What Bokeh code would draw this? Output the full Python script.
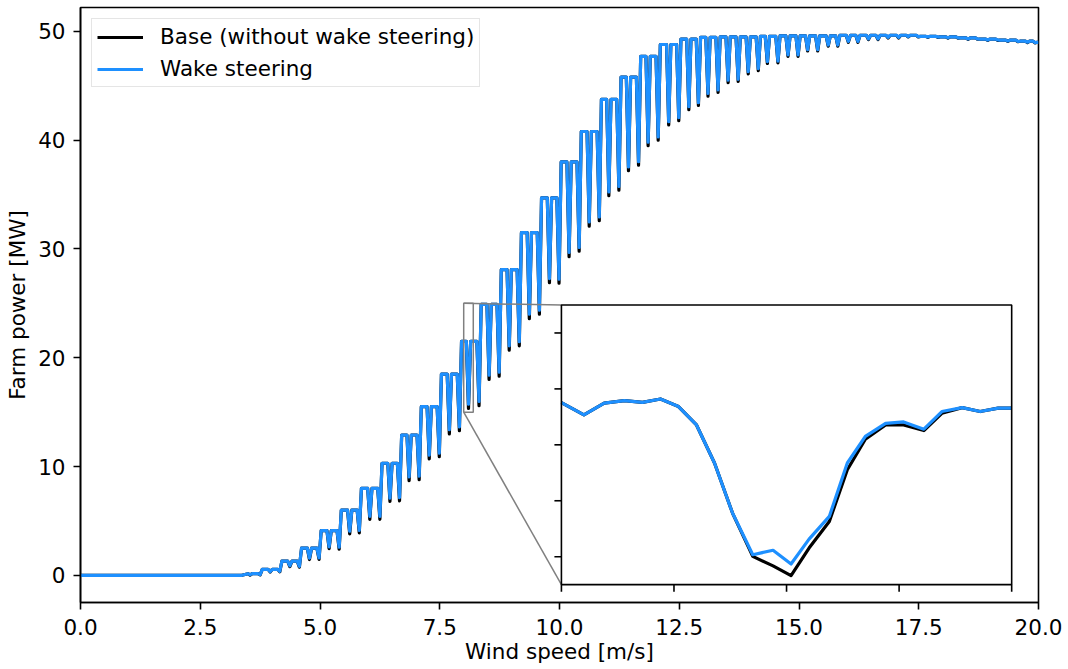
from bokeh.plotting import figure
from bokeh.models import Range1d, FixedTicker, NumeralTickFormatter
from bokeh.embed import file_html
from bokeh.resources import INLINE

FONT = "DejaVu Sans"
FS = "21.5px"
BLUE = "#1e90ff"
BLACK = "#000000"
GREY = "#808080"

# ---------------- data ----------------
x_ticks = [0.0, 2.5, 5.0, 7.5, 10.0, 12.5, 15.0, 17.5, 20.0]
y_ticks = [0, 10, 20, 30, 40, 50]
x_lim = (0.0, 20.0)
y_lim = (-2.5, 52.2)

zero_until = 3.37          # farm power is zero up to this wind speed
end_level = 49.0           # level at the right edge (20 m/s)

# plateau level of each direction sweep (two wake dips per sweep)
pair_levels = [0.15, 0.55, 1.3, 2.5, 4.1, 6.0, 8.0, 10.3, 12.9, 15.5,
               18.5, 21.5, 24.9, 28.1, 31.5, 34.7, 38.0, 40.8, 43.75, 45.8,
               47.7, 48.8, 49.3, 49.45, 49.5, 49.5, 49.55, 49.6, 49.6, 49.6,
               49.65, 49.65, 49.65, 49.65, 49.55, 49.5, 49.4, 49.3, 49.2, 49.1]
dip1_x = [3.54, 3.96, 4.37, 4.78, 5.19, 5.62, 6.04, 6.46, 6.86, 7.28,
          7.70, 8.10, 8.53, 8.95, 9.37, 9.79, 10.20, 10.62, 11.03, 11.44,
          11.85, 12.28, 12.70, 13.10, 13.52, 13.94, 14.34, 14.77, 15.18, 15.61,
          16.03, 16.45, 16.86, 17.28, 17.69, 18.11, 18.53, 18.94, 19.36, 19.77]
dip2_x = [3.75, 4.16, 4.57, 4.98, 5.40, 5.82, 6.25, 6.66, 7.07, 7.49,
          7.91, 8.32, 8.74, 9.16, 9.58, 9.99, 10.41, 10.83, 11.24, 11.65,
          12.06, 12.49, 12.90, 13.31, 13.73, 14.15, 14.56, 14.98, 15.39, 15.81,
          16.23, 16.65, 17.08, 17.49, 17.90, 18.32, 18.73, 19.15, 19.57, 19.93]
base_min1 = [0.02, 0.30, 0.80, 1.45, 2.45, 3.80, 5.15, 6.80, 8.70, 10.70,
             13.00, 15.35, 18.00, 20.70, 23.60, 26.90, 29.30, 32.10, 34.90, 37.20,
             39.50, 41.40, 42.80, 44.05, 45.30, 46.10, 47.05, 47.70, 48.20, 48.65,
             49.00, 49.25, 49.40, 49.50, 49.45, 49.38, 49.28, 49.18, 49.08, 48.98]
base_min2 = [0.04, 0.32, 0.75, 1.47, 2.40, 3.90, 5.15, 6.85, 8.80, 10.90,
             13.30, 15.60, 18.30, 21.10, 24.00, 26.85, 29.80, 32.60, 35.40, 37.70,
             40.00, 41.80, 43.20, 44.40, 45.40, 46.40, 47.10, 47.70, 48.20, 48.65,
             49.00, 49.25, 49.40, 49.50, 49.45, 49.38, 49.28, 49.18, 49.05, 48.95]
wake_min1 = [0.05, 0.35, 0.88, 1.58, 2.62, 4.05, 5.42, 7.10, 9.05, 11.05,
             13.38, 15.74, 18.40, 21.10, 24.00, 27.28, 29.68, 32.48, 35.25, 37.55,
             39.82, 41.70, 43.08, 44.30, 45.52, 46.30, 47.22, 47.84, 48.32, 48.75,
             49.08, 49.31, 49.45, 49.53, 49.48, 49.41, 49.31, 49.21, 49.11, 49.01]
wake_min2 = [0.07, 0.37, 0.83, 1.60, 2.58, 4.12, 5.42, 7.15, 9.12, 11.22,
             13.65, 15.98, 18.68, 21.48, 24.38, 27.22, 30.15, 32.95, 35.75, 38.02,
             40.30, 42.08, 43.45, 44.62, 45.60, 46.58, 47.26, 47.84, 48.32, 48.75,
             49.08, 49.31, 49.45, 49.53, 49.48, 49.41, 49.31, 49.21, 49.08, 48.98]

# zoomed inset (one wake dip around 8.1 m/s)
inset_xlim = (8.0, 8.2)
inset_ylim = (15.0, 25.0)
inset_xticks = [8.0, 8.05, 8.1, 8.15, 8.2]
inset_yticks = [16, 18, 20, 22, 24]
inset_x = [8.000, 8.010, 8.019, 8.028, 8.036, 8.044, 8.052, 8.060, 8.068, 8.076,
           8.085, 8.094, 8.102, 8.110, 8.119, 8.127, 8.135, 8.144, 8.152, 8.161,
           8.169, 8.178, 8.186, 8.194, 8.200]
inset_base = [21.51, 21.07, 21.49, 21.58, 21.52, 21.64, 21.37, 20.71, 19.35, 17.56,
              16.01, 15.67, 15.32, 16.31, 17.26, 19.11, 20.20, 20.71, 20.71, 20.51,
              21.13, 21.33, 21.19, 21.31, 21.31]
inset_wake = [21.51, 21.07, 21.49, 21.58, 21.52, 21.64, 21.37, 20.71, 19.35, 17.56,
              16.07, 16.23, 15.74, 16.63, 17.44, 19.35, 20.30, 20.77, 20.82, 20.56,
              21.19, 21.33, 21.19, 21.31, 21.31]

# ---------------- layout constants ----------------
W, H = 1068, 669
B_LEFT, B_TOP, B_RIGHT, B_BOTTOM = 80, 7, 30, 67
FRAME_W = W - B_LEFT - B_RIGHT
FRAME_H = H - B_TOP - B_BOTTOM
INSET_BOUNDS = (0.502, 0.03, 0.47, 0.47)   # axes fraction: x0, y0, w, h
HW = 0.045                                  # drawn half-width of a dip
TICK_PX = 7
LW = 3.2


def sweep_line(mins1, mins2):
    xs = [x_lim[0], zero_until]
    ys = [0.0, 0.0]
    n = len(pair_levels)
    for k in range(n):
        lev = pair_levels[k]
        nxt = pair_levels[k + 1] if k + 1 < n else end_level
        xs += [dip1_x[k] - HW, dip1_x[k], dip1_x[k] + HW,
               dip2_x[k] - HW, dip2_x[k], dip2_x[k] + HW]
        ys += [lev, mins1[k], lev, lev, mins2[k], nxt]
    if xs[-1] < x_lim[1]:
        xs.append(x_lim[1])
        ys.append(end_level)
    return xs, ys


def style_axis(ax):
    ax.axis_line_color = BLACK
    ax.axis_line_width = 1.6
    ax.major_tick_line_color = BLACK
    ax.major_tick_line_width = 1.6
    ax.major_tick_out = TICK_PX
    ax.major_tick_in = 0
    ax.minor_tick_line_color = None
    ax.major_label_text_font = FONT
    ax.major_label_text_font_size = FS
    ax.major_label_text_color = BLACK
    ax.axis_label_text_font = FONT
    ax.axis_label_text_font_size = FS
    ax.axis_label_text_font_style = "normal"
    ax.axis_label_text_color = BLACK


# ---------------- main figure ----------------
p = figure(width=W, height=H,
           x_range=Range1d(*x_lim), y_range=Range1d(*y_lim),
           output_backend="svg", toolbar_location=None,
           min_border_left=B_LEFT, min_border_top=B_TOP,
           min_border_right=B_RIGHT, min_border_bottom=B_BOTTOM)
p.background_fill_color = "white"
p.border_fill_color = "white"
p.outline_line_color = BLACK
p.outline_line_width = 1.6
p.xgrid.grid_line_color = None
p.ygrid.grid_line_color = None

p.xaxis.ticker = FixedTicker(ticks=x_ticks)
p.xaxis.formatter = NumeralTickFormatter(format="0.0")
p.yaxis.ticker = FixedTicker(ticks=y_ticks)
for ax in p.xaxis + p.yaxis:
    style_axis(ax)
p.xaxis.axis_label = "Wind speed [m/s]"
p.yaxis.axis_label = "Farm power [MW]"
p.xaxis.major_label_standoff = 9
p.xaxis.axis_label_standoff = 1
p.yaxis.major_label_standoff = 8
p.yaxis.axis_label_standoff = 5

bx, by = sweep_line(base_min1, base_min2)
wx, wy = sweep_line(wake_min1, wake_min2)
p.line(bx, by, line_color=BLACK, line_width=LW, line_join="round",
       legend_label="Base (without wake steering)")
p.line(wx, wy, line_color=BLUE, line_width=LW, line_join="round",
       legend_label="Wake steering")

# ---------------- inset, drawn on extra ranges of the same frame ----------------
fx0, fy0, fw, fh = INSET_BOUNDS
ix_span = (inset_xlim[1] - inset_xlim[0]) / fw
iy_span = (inset_ylim[1] - inset_ylim[0]) / fh
ix_start = inset_xlim[0] - fx0 * ix_span
iy_start = inset_ylim[0] - fy0 * iy_span
p.extra_x_ranges = {"ix": Range1d(ix_start, ix_start + ix_span)}
p.extra_y_ranges = {"iy": Range1d(iy_start, iy_start + iy_span)}
ikw = dict(x_range_name="ix", y_range_name="iy")

# inset corners in main data coordinates (for the connectors)
cx0 = x_lim[0] + fx0 * (x_lim[1] - x_lim[0])
cy0 = y_lim[0] + fy0 * (y_lim[1] - y_lim[0])
cy1 = y_lim[0] + (fy0 + fh) * (y_lim[1] - y_lim[0])

# zoom indicator and connectors on the main axes
p.quad(left=[inset_xlim[0]], right=[inset_xlim[1]],
       bottom=[inset_ylim[0]], top=[inset_ylim[1]],
       fill_color=None, line_color=GREY, line_width=1.5)
p.segment(x0=[inset_xlim[0], inset_xlim[0]], y0=[inset_ylim[0], inset_ylim[1]],
          x1=[cx0, cx0], y1=[cy0, cy1], line_color=GREY, line_width=1.5)

# inset background
p.quad(left=[inset_xlim[0]], right=[inset_xlim[1]],
       bottom=[inset_ylim[0]], top=[inset_ylim[1]],
       fill_color="white", line_color=None, **ikw)
p.line(inset_x, inset_base, line_color=BLACK, line_width=LW, line_join="round", **ikw)
p.line(inset_x, inset_wake, line_color=BLUE, line_width=LW, line_join="round", **ikw)
# inset frame
p.quad(left=[inset_xlim[0]], right=[inset_xlim[1]],
       bottom=[inset_ylim[0]], top=[inset_ylim[1]],
       fill_color=None, line_color=BLACK, line_width=1.6, **ikw)
# inset tick marks (outward, no labels)
px_per_ix = fw * FRAME_W / (inset_xlim[1] - inset_xlim[0])
px_per_iy = fh * FRAME_H / (inset_ylim[1] - inset_ylim[0])
tick_dy = TICK_PX / px_per_iy
tick_dx = TICK_PX / px_per_ix
p.segment(x0=inset_xticks, x1=inset_xticks,
          y0=[inset_ylim[0]] * len(inset_xticks),
          y1=[inset_ylim[0] - tick_dy] * len(inset_xticks),
          line_color=BLACK, line_width=1.6, **ikw)
p.segment(x0=[inset_xlim[0]] * len(inset_yticks),
          x1=[inset_xlim[0] - tick_dx] * len(inset_yticks),
          y0=inset_yticks, y1=inset_yticks,
          line_color=BLACK, line_width=1.6, **ikw)

lg = p.legend[0]
lg.location = "top_left"
lg.margin = 11
lg.padding = 5
lg.spacing = 7
lg.label_standoff = 17
lg.glyph_width = 46
lg.glyph_height = 22
lg.label_height = 22
lg.label_text_font = FONT
lg.label_text_font_size = FS
lg.label_text_color = BLACK
lg.border_line_color = "#cccccc"
lg.border_line_width = 1.5
lg.background_fill_color = "white"
lg.background_fill_alpha = 0.8

with open("out.html", "w") as f:
    f.write(file_html(p, INLINE))
